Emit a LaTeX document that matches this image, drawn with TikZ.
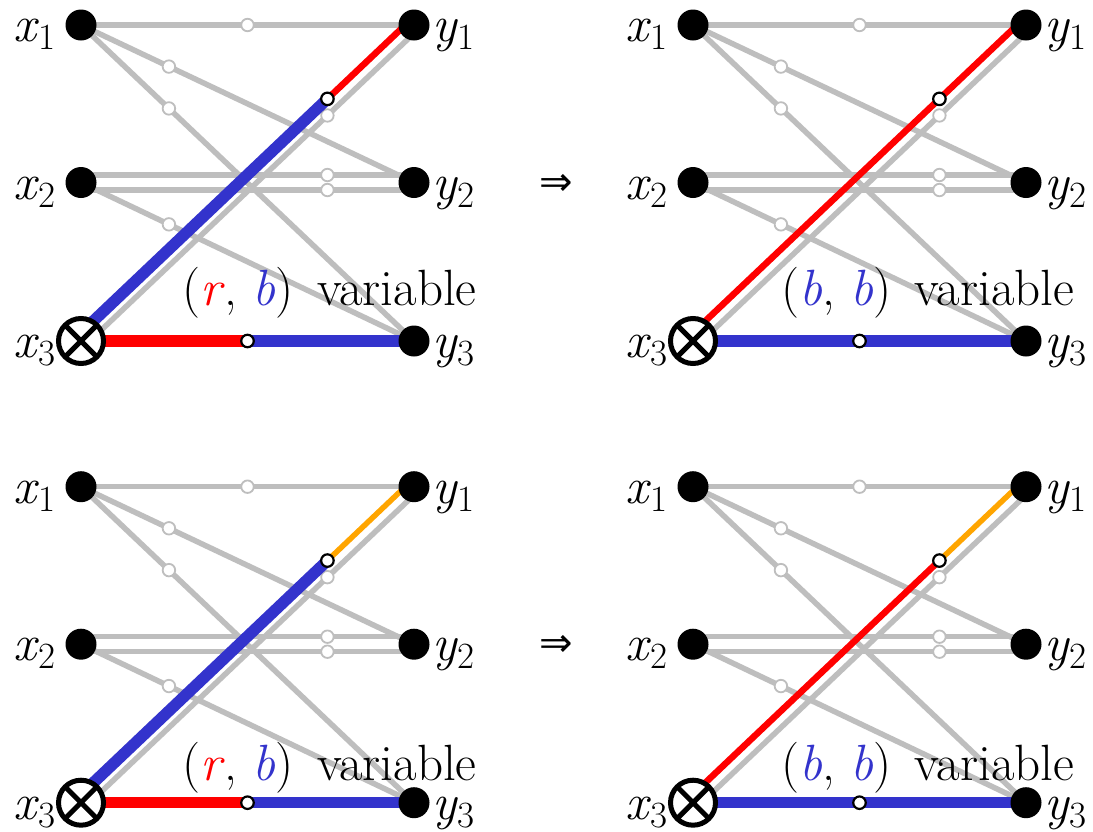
\documentclass[tikz,border=0pt]{standalone}
\usepackage{fontspec}
\newfontfamily\symface{DejaVu Sans}
\usepackage{graphicx}
\usetikzlibrary{calc}
\definecolor{eblue}{RGB}{51,51,204}
\definecolor{ered}{RGB}{255,0,0}
\definecolor{eorange}{RGB}{255,165,0}
\definecolor{egray}{RGB}{190,190,190}
\pgfdeclarelayer{bg}
\pgfdeclarelayer{edges}
\pgfsetlayers{bg,edges,main}
\newcommand\sbx[1]{\raisebox{-8pt}{\fontsize{37}{40}\selectfont #1}}
\tikzset{
 dot/.style={circle, fill=black, inner sep=0pt, minimum size=31pt},
 otimesnode/.style={circle, draw=black, line width=5pt, fill=white, inner sep=0pt, minimum size=45pt,
   path picture={\draw[line width=5pt] (path picture bounding box.north west) -- (path picture bounding box.south east)
     (path picture bounding box.north east) -- (path picture bounding box.south west);}},
 gedge/.style={draw=egray, line width=5.5pt},
 gcirc/.style={circle, draw=egray, line width=1.8pt, fill=white, inner sep=0pt, minimum size=12.5pt},
 bcirc/.style={circle, draw=black, line width=2.2pt, fill=white, inner sep=0pt, minimum size=12.5pt},
 thickblue/.style={draw=eblue, line width=11.5pt},
 thickred/.style={draw=ered, line width=11.5pt},
 thinred/.style={draw=ered, line width=6.5pt},
 thinorange/.style={draw=eorange, line width=5.5pt},
 lab/.style={inner sep=0pt, font=\rmfamily\fontsize{51}{60}\selectfont},
 txt/.style={lab, anchor=base west},
 arrowsym/.style={inner sep=0pt, font=\symface\fontsize{40}{40}\selectfont}
}
\newcommand\drawpanel[5]{%
 \node[dot] (#1x1) at (81,25) {};
 \node[dot] (#1x2) at (81,182.5) {};
 \node[otimesnode] (#1x3) at (81,341) {};
 \node[dot] (#1y1) at (414,25) {};
 \node[dot] (#1y2) at (414,182.5) {};
 \node[dot] (#1y3) at (414,341) {};
 \begin{pgfonlayer}{edges}
  \node[lab, anchor=base west] (#1lx1) at ([xshift=-68pt,yshift=-16.7pt]#1x1.center) {\textit{x}\sbx{1}};
  \node[lab, anchor=base west] (#1lx2) at ([xshift=-68pt,yshift=-16.7pt]#1x2.center) {\textit{x}\sbx{2}};
  \node[lab, anchor=base west] (#1lx3) at ([xshift=-68pt,yshift=-16.7pt]#1x3.center) {\textit{x}\sbx{3}};
  \node[lab, anchor=base west] (#1ly1) at ([xshift=18pt,yshift=-16.7pt]#1y1.center) {\textit{y}\sbx{1}};
  \node[lab, anchor=base west] (#1ly2) at ([xshift=18pt,yshift=-16.7pt]#1y2.center) {\textit{y}\sbx{2}};
  \node[lab, anchor=base west] (#1ly3) at ([xshift=18pt,yshift=-16.7pt]#1y3.center) {\textit{y}\sbx{3}};
  \draw[gedge] (#1x1.center) -- node[gcirc,pos=0.5]{} (#1y1.center);
  \draw[gedge] (#1x1.center) -- node[gcirc,pos=0.264]{} (#1y2.center);
  \draw[gedge] (#1x1.center) -- node[gcirc,pos=0.264]{} (#1y3.center);
  \draw[gedge] ([yshift=7.5pt]#1x2.center) -- node[gcirc,pos=0.74]{} ([yshift=7.5pt]#1y2.center);
  \draw[gedge] ([yshift=-7.5pt]#1x2.center) -- node[gcirc,pos=0.74]{} ([yshift=-7.5pt]#1y2.center);
  \draw[gedge] (#1x2.center) -- node[gcirc,pos=0.264]{} (#1y3.center);
  \draw[gedge] ([yshift=-8.3pt]#1x3.center) -- node[gcirc,pos=0.74]{} ([yshift=-8.3pt]#1y1.center);
  \coordinate (#1da) at ([yshift=8.3pt]#1x3.center);
  \coordinate (#1db) at ([yshift=8.3pt]#1y1.center);
  \coordinate (#1dm) at ($(#1da)!0.74!(#1db)$);
  \draw[#2] (#1da) -- (#1dm);
  \draw[#3] (#1dm) -- (#1db);
  \node[bcirc] at (#1dm) {};
  \coordinate (#1hm) at ($(#1x3.center)!0.5!(#1y3.center)$);
  \draw[#4] (#1x3.center) -- (#1hm);
  \draw[#5] (#1hm) -- (#1y3.center);
  \node[bcirc] at (#1hm) {};
 \end{pgfonlayer}
}
\begin{document}
\begin{tikzpicture}[x=1pt,y=-1pt]
\begin{pgfonlayer}{bg}
\fill[white] (0,0) rectangle (1093,831);
\end{pgfonlayer}
\useasboundingbox (0,0) rectangle (1093,831);
\begin{scope}
\drawpanel{a}{thickblue}{thinred}{thickred}{thickblue}
\end{scope}
\begin{scope}[shift={(612,0)}]
\drawpanel{b}{thinred}{thinred}{thickblue}{thickblue}
\end{scope}
\begin{scope}[shift={(0,461.7)}]
\drawpanel{c}{thickblue}{thinorange}{thickred}{thickblue}
\end{scope}
\begin{scope}[shift={(612,461.7)}]
\drawpanel{d}{thinred}{thinorange}{thickblue}{thickblue}
\end{scope}
\node[txt] (ta) at (182,305) {(\textcolor{ered}{\textit{r}}, \textcolor{eblue}{\textit{b}})\hspace{8pt} variable};
\node[txt] (tb) at (781,305) {(\textcolor{eblue}{\textit{b}}, \textcolor{eblue}{\textit{b}})\hspace{8pt} variable};
\node[txt] (tc) at (182,780) {(\textcolor{ered}{\textit{r}}, \textcolor{eblue}{\textit{b}})\hspace{8pt} variable};
\node[txt] (td) at (781,780) {(\textcolor{eblue}{\textit{b}}, \textcolor{eblue}{\textit{b}})\hspace{8pt} variable};
\node[arrowsym] (arr1) at (556,185) {⇒};
\node[arrowsym] (arr2) at (556,646) {⇒};
\end{tikzpicture}
\end{document}
